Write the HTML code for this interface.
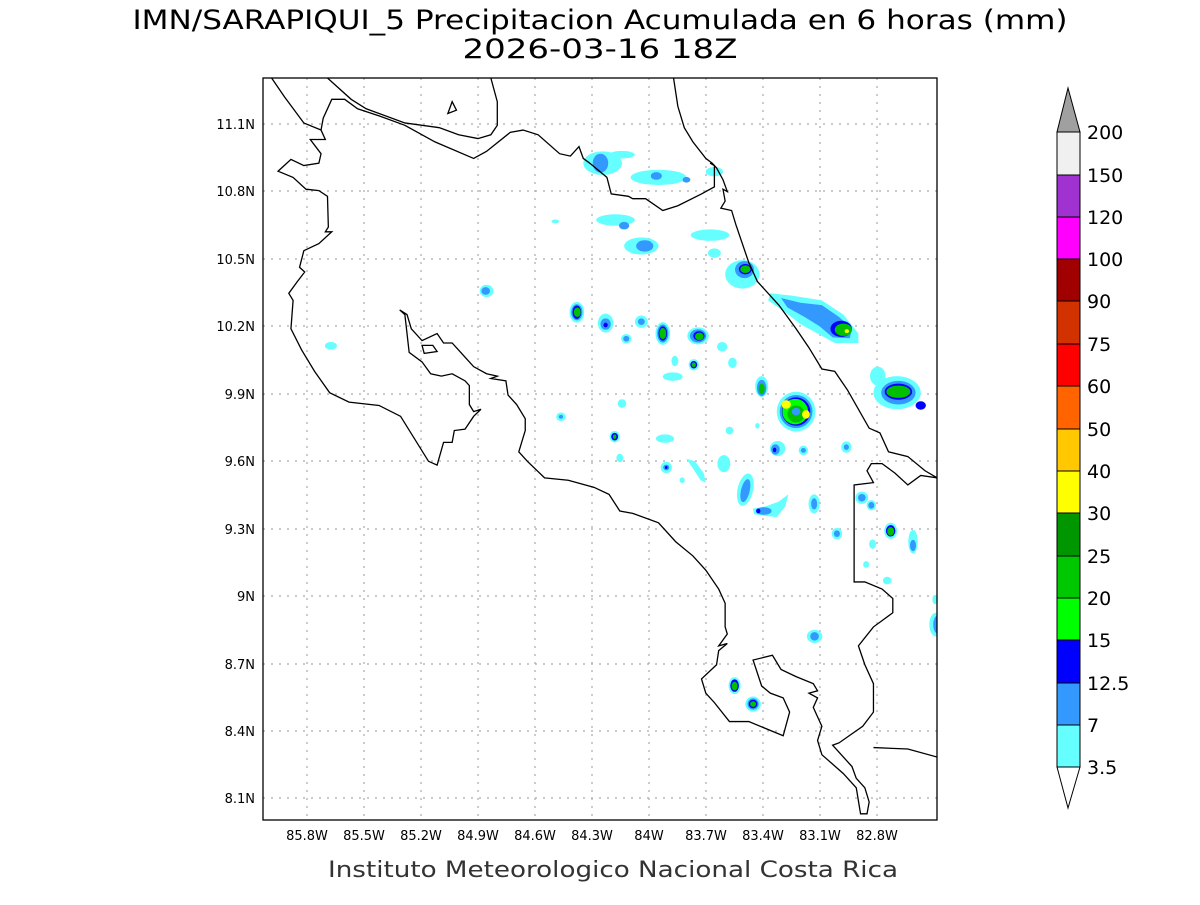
<!DOCTYPE html>
<html><head><meta charset="utf-8"><style>
body{margin:0;background:#fff;width:1200px;height:900px;overflow:hidden}
svg text{font-family:"DejaVu Sans","Liberation Sans",sans-serif}
</style></head><body>
<svg width="1200" height="900" viewBox="0 0 1200 900">
<text x="600" y="29" font-size="27" text-anchor="middle" fill="#000" textLength="935" lengthAdjust="spacingAndGlyphs">IMN/SARAPIQUI_5 Precipitacion Acumulada en 6 horas (mm)</text>
<text x="600" y="58" font-size="27" text-anchor="middle" fill="#000" textLength="275" lengthAdjust="spacingAndGlyphs">2026-03-16 18Z</text>
<text x="613" y="877" font-size="22" text-anchor="middle" fill="#333" textLength="570" lengthAdjust="spacingAndGlyphs">Instituto Meteorologico Nacional Costa Rica</text>
<defs><clipPath id="c"><rect x="263" y="78" width="674" height="742"/></clipPath></defs>
<g stroke="#aaa" stroke-width="1.2" stroke-dasharray="2,6">
<line x1="307" y1="78" x2="307" y2="820"/><line x1="364" y1="78" x2="364" y2="820"/><line x1="421" y1="78" x2="421" y2="820"/><line x1="478" y1="78" x2="478" y2="820"/><line x1="535" y1="78" x2="535" y2="820"/><line x1="592" y1="78" x2="592" y2="820"/><line x1="649" y1="78" x2="649" y2="820"/><line x1="706" y1="78" x2="706" y2="820"/><line x1="763" y1="78" x2="763" y2="820"/><line x1="820" y1="78" x2="820" y2="820"/><line x1="877" y1="78" x2="877" y2="820"/>
<line x1="263" y1="124" x2="937" y2="124"/><line x1="263" y1="191" x2="937" y2="191"/><line x1="263" y1="259" x2="937" y2="259"/><line x1="263" y1="326" x2="937" y2="326"/><line x1="263" y1="394" x2="937" y2="394"/><line x1="263" y1="461" x2="937" y2="461"/><line x1="263" y1="529" x2="937" y2="529"/><line x1="263" y1="596" x2="937" y2="596"/><line x1="263" y1="664" x2="937" y2="664"/><line x1="263" y1="731" x2="937" y2="731"/><line x1="263" y1="798" x2="937" y2="798"/>
</g>
<g clip-path="url(#c)"><g transform="translate(263,78) scale(0.4299,0.4732)">
<g>
<ellipse cx="790" cy="180" rx="45" ry="25" fill="#66ffff"/><ellipse cx="835" cy="162" rx="30" ry="8" fill="#66ffff"/><ellipse cx="785" cy="180" rx="18" ry="20" fill="#3399ff"/>
<ellipse cx="920" cy="210" rx="65" ry="16" fill="#66ffff"/><ellipse cx="915" cy="207" rx="13" ry="8" fill="#3399ff"/><ellipse cx="985" cy="215" rx="9" ry="6" fill="#3399ff"/><ellipse cx="1050" cy="198" rx="20" ry="10" fill="#66ffff"/>
<ellipse cx="820" cy="300" rx="45" ry="12" fill="#66ffff"/><ellipse cx="840" cy="312" rx="12" ry="8" fill="#3399ff"/>
<ellipse cx="880" cy="355" rx="40" ry="18" fill="#66ffff"/><ellipse cx="888" cy="355" rx="20" ry="12" fill="#3399ff"/>
<ellipse cx="1040" cy="332" rx="45" ry="12" fill="#66ffff"/><ellipse cx="1050" cy="370" rx="15" ry="10" fill="#66ffff"/><ellipse cx="680" cy="303" rx="9" ry="4" fill="#66ffff"/>
<polygon points="1180,455 1230,460 1300,470 1350,500 1385,540 1385,560 1330,560 1290,540 1250,520 1215,495 1175,470" fill="#66ffff"/>
<polygon points="1205,465 1250,475 1300,480 1340,505 1370,530 1365,550 1325,548 1295,525 1260,505 1220,485" fill="#3399ff"/>
<ellipse cx="1345" cy="530" rx="25" ry="17" fill="#0000ff"/><ellipse cx="1350" cy="532" rx="20" ry="13" fill="#00c000"/><ellipse cx="1358" cy="535" rx="5" ry="4" fill="#ffff00"/>
<ellipse cx="1115" cy="415" rx="40" ry="30" fill="#66ffff"/><ellipse cx="1120" cy="405" rx="22" ry="18" fill="#3399ff"/><ellipse cx="1122" cy="404" rx="15" ry="11" fill="#0000ff"/><ellipse cx="1122" cy="404" rx="12" ry="8" fill="#00c000"/>
<ellipse cx="520" cy="450" rx="16" ry="13" fill="#66ffff"/><ellipse cx="518" cy="450" rx="10" ry="8" fill="#3399ff"/><ellipse cx="158" cy="566" rx="14" ry="8" fill="#66ffff"/>
<ellipse cx="730" cy="495" rx="17" ry="22" fill="#66ffff"/><ellipse cx="730" cy="495" rx="13" ry="17" fill="#3399ff"/><ellipse cx="730" cy="495" rx="10" ry="14" fill="#0000ff"/><ellipse cx="731" cy="495" rx="8" ry="10" fill="#00c000"/>
<ellipse cx="797" cy="518" rx="18" ry="20" fill="#66ffff"/><ellipse cx="797" cy="520" rx="12" ry="12" fill="#3399ff"/><ellipse cx="797" cy="522" rx="5" ry="5" fill="#0000ff"/>
<ellipse cx="880" cy="515" rx="15" ry="13" fill="#66ffff"/><ellipse cx="880" cy="515" rx="8" ry="7" fill="#3399ff"/>
<ellipse cx="930" cy="540" rx="17" ry="24" fill="#66ffff"/><ellipse cx="930" cy="540" rx="13" ry="19" fill="#3399ff"/><ellipse cx="930" cy="540" rx="10" ry="15" fill="#0000ff"/><ellipse cx="930" cy="540" rx="8" ry="12" fill="#00c000"/>
<ellipse cx="1012" cy="545" rx="25" ry="18" fill="#66ffff"/><ellipse cx="1012" cy="545" rx="19" ry="14" fill="#3399ff"/><ellipse cx="1014" cy="545" rx="13" ry="10" fill="#0000ff"/><ellipse cx="1015" cy="546" rx="10" ry="8" fill="#00c000"/>
<ellipse cx="845" cy="551" rx="12" ry="10" fill="#66ffff"/><ellipse cx="845" cy="551" rx="7" ry="6" fill="#3399ff"/>
<ellipse cx="1068" cy="568" rx="12" ry="10" fill="#66ffff"/><ellipse cx="958" cy="598" rx="8" ry="11" fill="#66ffff"/><ellipse cx="1092" cy="602" rx="10" ry="11" fill="#66ffff"/>
<ellipse cx="1002" cy="606" rx="12" ry="12" fill="#66ffff"/><ellipse cx="1002" cy="606" rx="8" ry="8" fill="#0000ff"/><ellipse cx="1002" cy="606" rx="5" ry="5" fill="#00c000"/>
<ellipse cx="953" cy="631" rx="23" ry="9" fill="#66ffff"/>
<ellipse cx="1160" cy="652" rx="15" ry="22" fill="#66ffff"/><ellipse cx="1160" cy="655" rx="11" ry="17" fill="#3399ff"/><ellipse cx="1160" cy="657" rx="7" ry="11" fill="#00c000"/>
<ellipse cx="1240" cy="705" rx="45" ry="42" fill="#66ffff"/><ellipse cx="1240" cy="705" rx="38" ry="35" fill="#3399ff"/><ellipse cx="1240" cy="705" rx="33" ry="30" fill="#0000ff"/><ellipse cx="1238" cy="705" rx="30" ry="27" fill="#00ff00"/><ellipse cx="1240" cy="710" rx="20" ry="18" fill="#00c000"/>
<ellipse cx="1217" cy="690" rx="11" ry="9" fill="#ffff00"/><ellipse cx="1263" cy="711" rx="9" ry="9" fill="#ffff00"/><ellipse cx="1240" cy="705" rx="10" ry="8" fill="#3399ff"/>
<ellipse cx="1475" cy="665" rx="55" ry="35" fill="#66ffff"/><ellipse cx="1430" cy="630" rx="18" ry="20" fill="#66ffff"/><ellipse cx="1478" cy="665" rx="40" ry="25" fill="#3399ff"/><ellipse cx="1478" cy="663" rx="32" ry="17" fill="#0000ff"/><ellipse cx="1478" cy="663" rx="28" ry="13" fill="#00c000"/><ellipse cx="1530" cy="692" rx="12" ry="9" fill="#0000ff"/>
<ellipse cx="835" cy="688" rx="10" ry="9" fill="#66ffff"/><ellipse cx="693" cy="716" rx="11" ry="9" fill="#66ffff"/><ellipse cx="693" cy="716" rx="5" ry="4" fill="#3399ff"/>
<ellipse cx="818" cy="758" rx="12" ry="12" fill="#66ffff"/><ellipse cx="818" cy="758" rx="8" ry="8" fill="#0000ff"/><ellipse cx="818" cy="758" rx="4" ry="5" fill="#00c000"/>
<ellipse cx="935" cy="762" rx="21" ry="9" fill="#66ffff"/><ellipse cx="1085" cy="745" rx="9" ry="8" fill="#66ffff"/><ellipse cx="1150" cy="735" rx="5" ry="6" fill="#66ffff"/>
<ellipse cx="1197" cy="783" rx="18" ry="16" fill="#66ffff"/><ellipse cx="1192" cy="785" rx="10" ry="11" fill="#3399ff"/><ellipse cx="1190" cy="786" rx="4" ry="5" fill="#0000ff"/>
<ellipse cx="1257" cy="787" rx="11" ry="10" fill="#66ffff"/><ellipse cx="1257" cy="787" rx="6" ry="5" fill="#3399ff"/><ellipse cx="1357" cy="780" rx="12" ry="12" fill="#66ffff"/><ellipse cx="1357" cy="780" rx="6" ry="6" fill="#3399ff"/>
<ellipse cx="830" cy="803" rx="8" ry="9" fill="#66ffff"/><ellipse cx="938" cy="823" rx="13" ry="12" fill="#66ffff"/><ellipse cx="938" cy="823" rx="7" ry="6" fill="#3399ff"/><ellipse cx="938" cy="823" rx="3" ry="3" fill="#0000ff"/>
<polygon points="985,805 1005,810 1025,835 1030,855 1018,850 1000,825" fill="#66ffff"/><ellipse cx="1072" cy="815" rx="15" ry="18" fill="#66ffff"/><ellipse cx="975" cy="850" rx="6" ry="6" fill="#66ffff"/>
<ellipse cx="1122" cy="870" rx="18" ry="35" fill="#66ffff" transform="rotate(15 1122 870)"/><ellipse cx="1122" cy="872" rx="10" ry="25" fill="#3399ff" transform="rotate(15 1122 872)"/>
<polygon points="1140,910 1170,905 1200,895 1222,880 1215,905 1195,928 1165,925 1142,922" fill="#66ffff"/><ellipse cx="1165" cy="915" rx="18" ry="8" fill="#3399ff"/><ellipse cx="1152" cy="915" rx="5" ry="5" fill="#0000ff"/>
<ellipse cx="1282" cy="900" rx="13" ry="20" fill="#66ffff"/><ellipse cx="1282" cy="900" rx="7" ry="12" fill="#3399ff"/>
<ellipse cx="1393" cy="887" rx="15" ry="13" fill="#66ffff"/><ellipse cx="1393" cy="887" rx="9" ry="8" fill="#3399ff"/><ellipse cx="1415" cy="903" rx="11" ry="11" fill="#66ffff"/><ellipse cx="1415" cy="903" rx="7" ry="7" fill="#3399ff"/>
<ellipse cx="1460" cy="957" rx="15" ry="17" fill="#66ffff"/><ellipse cx="1460" cy="957" rx="11" ry="12" fill="#0000ff"/><ellipse cx="1460" cy="958" rx="8" ry="9" fill="#00c000"/>
<ellipse cx="1335" cy="963" rx="12" ry="12" fill="#66ffff"/><ellipse cx="1335" cy="963" rx="7" ry="7" fill="#3399ff"/>
<ellipse cx="1512" cy="980" rx="11" ry="25" fill="#66ffff"/><ellipse cx="1512" cy="988" rx="7" ry="12" fill="#3399ff"/>
<ellipse cx="1418" cy="985" rx="8" ry="10" fill="#66ffff"/><ellipse cx="1403" cy="1028" rx="7" ry="7" fill="#66ffff"/><ellipse cx="1452" cy="1062" rx="10" ry="8" fill="#66ffff"/>
<ellipse cx="1565" cy="1155" rx="15" ry="25" fill="#66ffff"/><ellipse cx="1568" cy="1155" rx="9" ry="18" fill="#3399ff"/><ellipse cx="1563" cy="1102" rx="6" ry="10" fill="#66ffff"/>
<ellipse cx="1283" cy="1180" rx="18" ry="14" fill="#66ffff"/><ellipse cx="1283" cy="1180" rx="10" ry="9" fill="#3399ff"/>
<ellipse cx="1097" cy="1284" rx="14" ry="18" fill="#66ffff"/><ellipse cx="1097" cy="1284" rx="10" ry="13" fill="#0000ff"/><ellipse cx="1097" cy="1285" rx="7" ry="9" fill="#00c000"/>
<ellipse cx="1140" cy="1323" rx="18" ry="16" fill="#66ffff"/><ellipse cx="1140" cy="1323" rx="13" ry="12" fill="#3399ff"/><ellipse cx="1140" cy="1323" rx="10" ry="9" fill="#0000ff"/><ellipse cx="1140" cy="1323" rx="7" ry="6" fill="#00c000"/>
</g>
<g fill="none" stroke="#000" stroke-width="1.3" vector-effect="non-scaling-stroke">
<polyline vector-effect="non-scaling-stroke" points="20,0 50,40 95,95 135,110 145,130 110,130 135,160 130,180 95,185 65,172 35,197 70,210 100,235 130,238 150,250 152,315 145,325 160,325 130,350 95,365 85,400 97,410 80,430 60,455 70,470 65,530 90,575 120,620 155,665 200,685 270,692 320,715 385,810 405,818 420,770 440,770 445,745 470,742 490,715 507,700 490,705 480,690 480,650 470,640 440,625 415,630 390,625 370,600 340,580 330,500 318,490 335,500 345,530 370,555 405,540 420,560 440,560 460,580 470,590 490,610 520,625 545,630 530,635 565,640 570,670 590,690 610,720 610,745 595,790 615,810 655,845 710,850 770,865 805,880 830,915 860,920 920,940 960,980 1000,1010 1030,1040 1060,1080 1075,1110 1075,1160 1080,1175 1060,1200 1080,1195 1060,1210 1055,1240 1020,1270 1030,1300 1050,1320 1085,1360 1130,1360 1210,1390 1225,1340 1210,1310 1180,1300 1160,1285 1140,1230 1185,1220 1205,1250 1240,1265 1280,1280 1290,1295 1270,1300 1290,1310 1280,1330 1300,1370 1290,1400 1300,1430 1350,1470 1380,1500 1390,1555 1405,1555 1410,1530 1400,1500 1380,1480 1370,1455 1325,1410 1340,1405 1395,1370 1420,1340 1420,1280 1400,1240 1385,1200 1420,1160 1465,1130 1465,1100 1440,1080 1400,1065 1375,1065 1375,860 1420,855 1405,830 1415,815 1440,815 1470,835 1500,860 1530,840 1568,845"/>
<polyline vector-effect="non-scaling-stroke" points="1420,1415 1500,1418 1568,1435"/>
<polyline vector-effect="non-scaling-stroke" points="955,0 965,60 980,105 1000,135 1030,170 1045,180 1055,190 1070,215 1080,240 1070,235 1075,260 1065,275 1090,280 1100,310 1130,390 1150,430 1200,480 1240,530 1270,570 1300,615 1330,620 1360,660 1410,740 1435,750 1455,790 1500,800 1540,830 1568,845"/>
<polyline vector-effect="non-scaling-stroke" points="1040,180 1050,185 1050,230 1020,245 965,270 930,280 890,255 860,255 850,250 810,245 800,210 760,180 745,170 735,145 715,165 690,160 640,120 605,110 575,115 520,155 490,170 400,135 330,100 270,80 220,65 190,45 160,45 140,85 135,110"/>
<polyline vector-effect="non-scaling-stroke" points="150,0 205,45 240,65 330,95 410,105 455,120 500,128 530,120 545,100 545,50 530,0"/>
<polygon vector-effect="non-scaling-stroke" points="370,565 395,565 405,578 375,582"/>
<polygon vector-effect="non-scaling-stroke" points="430,75 440,50 450,68"/>
</g></g></g>
<rect x="263" y="78" width="674" height="742" fill="none" stroke="#000" stroke-width="1.3"/>
<g font-size="13" fill="#000" text-anchor="end">
<text x="255" y="129">11.1N</text><text x="255" y="196">10.8N</text><text x="255" y="264">10.5N</text><text x="255" y="331">10.2N</text><text x="255" y="399">9.9N</text><text x="255" y="466">9.6N</text><text x="255" y="534">9.3N</text><text x="255" y="601">9N</text><text x="255" y="669">8.7N</text><text x="255" y="736">8.4N</text><text x="255" y="803">8.1N</text>
</g>
<g font-size="13" fill="#000" text-anchor="middle">
<text x="307" y="840">85.8W</text><text x="364" y="840">85.5W</text><text x="421" y="840">85.2W</text><text x="478" y="840">84.9W</text><text x="535" y="840">84.6W</text><text x="592" y="840">84.3W</text><text x="649" y="840">84W</text><text x="706" y="840">83.7W</text><text x="763" y="840">83.4W</text><text x="820" y="840">83.1W</text><text x="877" y="840">82.8W</text>
</g>
<g stroke="#000" stroke-width="1">
<polygon points="1057,132 1068,88 1080,132" fill="#a0a0a0"/>
<rect x="1057" y="132" width="23" height="43" fill="#f0f0f0"/>
<rect x="1057" y="175" width="23" height="42" fill="#a032d2"/>
<rect x="1057" y="217" width="23" height="42" fill="#ff00ff"/>
<rect x="1057" y="259" width="23" height="42" fill="#a00000"/>
<rect x="1057" y="301" width="23" height="43" fill="#d23200"/>
<rect x="1057" y="344" width="23" height="42" fill="#ff0000"/>
<rect x="1057" y="386" width="23" height="43" fill="#ff6400"/>
<rect x="1057" y="429" width="23" height="42" fill="#ffc800"/>
<rect x="1057" y="471" width="23" height="42" fill="#ffff00"/>
<rect x="1057" y="513" width="23" height="43" fill="#009600"/>
<rect x="1057" y="556" width="23" height="42" fill="#00c800"/>
<rect x="1057" y="598" width="23" height="42" fill="#00ff00"/>
<rect x="1057" y="640" width="23" height="43" fill="#0000ff"/>
<rect x="1057" y="683" width="23" height="42" fill="#3399ff"/>
<rect x="1057" y="725" width="23" height="42" fill="#66ffff"/>
<polygon points="1057,767 1068,808 1080,767" fill="#fff"/>
</g>
<g font-size="19" fill="#000">
<text x="1087" y="139">200</text><text x="1087" y="182">150</text><text x="1087" y="224">120</text><text x="1087" y="266">100</text><text x="1087" y="308">90</text><text x="1087" y="351">75</text><text x="1087" y="393">60</text><text x="1087" y="436">50</text><text x="1087" y="478">40</text><text x="1087" y="520">30</text><text x="1087" y="563">25</text><text x="1087" y="605">20</text><text x="1087" y="647">15</text><text x="1087" y="690">12.5</text><text x="1087" y="732">7</text><text x="1087" y="774">3.5</text>
</g>
</svg>
</body></html>
